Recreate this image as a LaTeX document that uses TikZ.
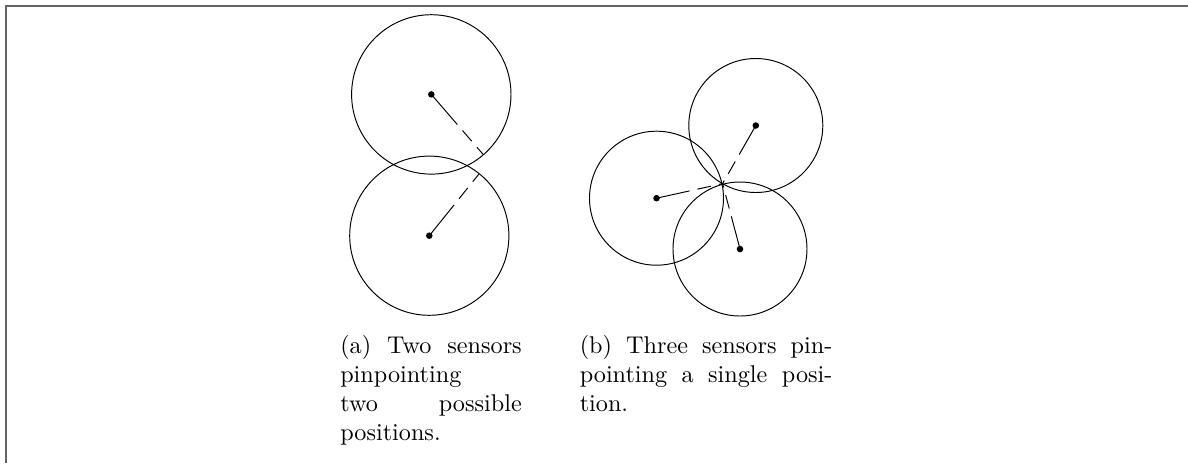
\documentclass[tikz,border=0pt]{standalone}
\usetikzlibrary{calc}
\definecolor{framecol}{RGB}{100,100,100}
\begin{document}
\begin{tikzpicture}[x=0.41322pt,y=-0.41322pt,
  ring/.style={draw=black, line width=0.4pt},
  sensor/.style={fill=black, circle, inner sep=0pt, minimum size=2.7pt},
  solidpart/.style={draw=black, line width=0.4pt},
  dashpart/.style={draw=black, line width=0.4pt, dash pattern=on 5.8pt off 3.3pt, dash phase=5.8pt},
  caption/.style={anchor=base west, inner sep=0pt, align=left}
]
\useasboundingbox (0,0) rectangle (1188,463);
% frame (only top and left edges visible)
\coordinate (fbl) at (6,463);
\coordinate (ftl) at (6,6);
\coordinate (ftr) at (1188,6);
\draw[framecol, line width=0.62pt] (fbl) -- (ftl) -- (ftr);

% ---------- (a) two sensors ----------
\node[sensor] (a1) at (431.3,94.4) {};
\node[sensor] (a2) at (429.3,235.7) {};
\draw[ring] (a1.center) circle[radius=79.7];
\draw[ring] (a2.center) circle[radius=79.6];
\coordinate (e1) at (483.3,154.6);
\coordinate (e2) at (478.7,174.3);
\coordinate (m1) at ($(a1.center)!0.5!(e1)$);
\coordinate (m2) at ($(a2.center)!0.5!(e2)$);
\draw[solidpart] (a1.center) -- (m1);
\draw[dashpart] (m1) -- (e1);
\draw[solidpart] (a2.center) -- (m2);
\draw[dashpart] (m2) -- (e2);

% ---------- (b) three sensors ----------
\node[sensor] (b1) at (755.8,125.5) {};
\node[sensor] (b2) at (656.5,198.2) {};
\node[sensor] (b3) at (740.0,249.0) {};
\coordinate (p) at (722.6,183.6);
\draw[ring] (b1.center) circle[radius=67];
\draw[ring] (b2.center) circle[radius=67];
\draw[ring] (b3.center) circle[radius=67];
\coordinate (n1) at ($(b1.center)!0.5!(p)$);
\coordinate (n2) at ($(b2.center)!0.5!(p)$);
\coordinate (n3) at ($(b3.center)!0.5!(p)$);
\draw[solidpart] (b1.center) -- (n1);
\draw[dashpart] (n1) -- (p);
\draw[solidpart] (b2.center) -- (n2);
\draw[dashpart] (n2) -- (p);
\draw[solidpart] (b3.center) -- (n3);
\draw[dashpart] (n3) -- (p);

% ---------- captions ----------
\node[caption, text width=75pt] (capa) at (339.8,353.3)
  {\makebox[75pt][l]{(a)\hfill Two\hfill sensors}\\pinpointing\\\makebox[75pt][l]{two\hfill possible}\\positions.};
\node[caption, text width=104.4pt] (capb) at (579.3,353.3)
  {\makebox[104.4pt][l]{(b)\hfill Three\hfill sensors\hfill pin-}\\\makebox[104.4pt][l]{pointing\hfill a\hfill single\hfill posi-}\\tion.};
\end{tikzpicture}
\end{document}
